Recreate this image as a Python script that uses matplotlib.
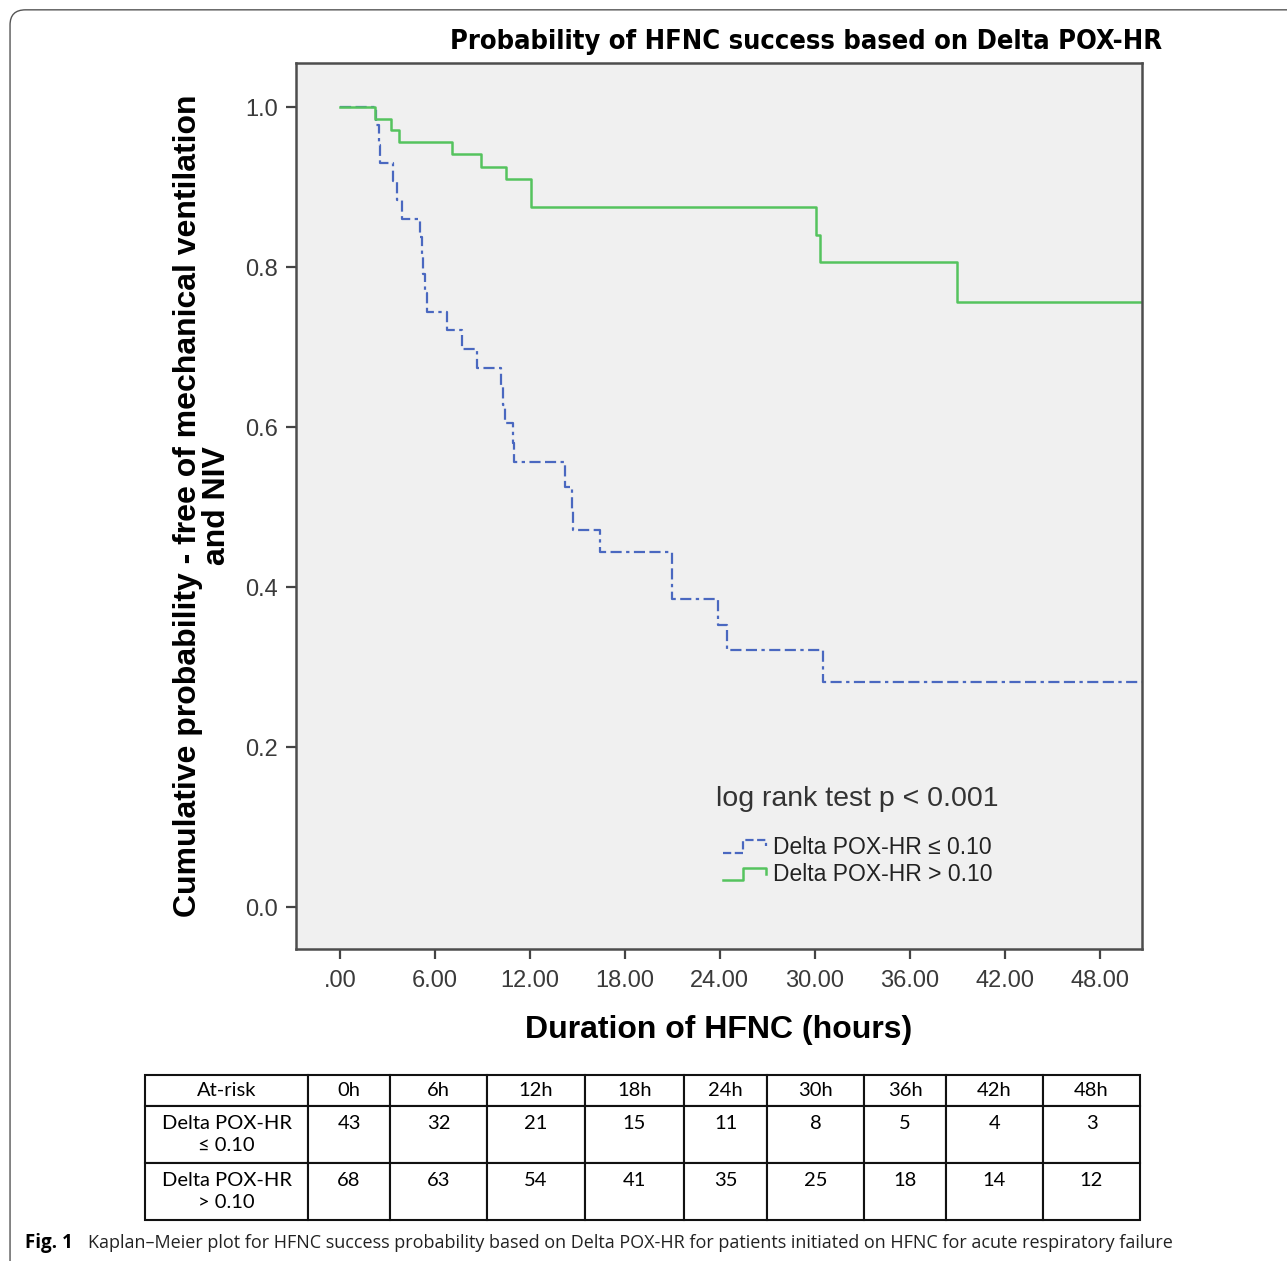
import matplotlib.pyplot as plt
import numpy as np
from matplotlib.lines import Line2D
from matplotlib.legend_handler import HandlerBase
from matplotlib.patches import FancyBboxPatch

# Kaplan-Meier step data (time in hours, survival after the event)
low_t = [0, 2.3, 2.45, 2.55, 3.35, 3.6, 3.9, 5.05, 5.15, 5.25, 5.35, 5.5, 6.75, 7.7, 8.65,
         10.2, 10.3, 10.4, 10.9, 11.0, 14.2, 14.65, 14.75, 16.4, 21.0, 23.9, 24.45, 30.5, 52]
low_s = [1.0, 0.977, 0.953, 0.93, 0.907, 0.884, 0.86, 0.837, 0.814, 0.791, 0.767, 0.744, 0.721,
         0.698, 0.674, 0.651, 0.628, 0.605, 0.58, 0.556, 0.525, 0.498, 0.471, 0.444, 0.385,
         0.352, 0.321, 0.281, 0.281]
high_t = [0, 2.2, 3.2, 3.7, 7.05, 8.9, 10.5, 12.1, 30.1, 30.35, 39.0, 52]
high_s = [1.0, 0.985, 0.971, 0.956, 0.941, 0.925, 0.91, 0.875, 0.84, 0.806, 0.756, 0.756]

xticks = [0, 6, 12, 18, 24, 30, 36, 42, 48]
xticklabels = [".00", "6.00", "12.00", "18.00", "24.00", "30.00", "36.00", "42.00", "48.00"]
yticks = [0.0, 0.2, 0.4, 0.6, 0.8, 1.0]

risk_cols = ["At-risk", "0h", "6h", "12h", "18h", "24h", "30h", "36h", "42h", "48h"]
risk_low = [43, 32, 21, 15, 11, 8, 5, 4, 3]
risk_high = [68, 63, 54, 41, 35, 25, 18, 14, 12]
label_low = "Delta POX-HR ≤ 0.10"
label_high = "Delta POX-HR > 0.10"

blue = "#4a68c0"
green = "#55c35e"
sans = ["Liberation Sans", "DejaVu Sans"]
plt.rcParams["font.family"] = sans


class StepHandler(HandlerBase):
    def create_artists(self, legend, orig, xd, yd, w, h, fs, trans):
        xs = np.array([0, 0.45, 0.45, 0.95, 0.95]) * w - xd
        ys = np.array([0.05, 0.05, 0.85, 0.85, 0.45]) * h - yd
        ln = Line2D(xs, ys, color=orig.get_color(), linestyle=orig.get_linestyle(),
                    lw=orig.get_linewidth())
        ln.set_transform(trans)
        return [ln]


fig = plt.figure(figsize=(12.87, 12.61), dpi=100)
fig.patch.set_facecolor("white")

# rounded frame of the journal figure
frame = FancyBboxPatch((0.0078, -0.02), 1.05, 1.0122, transform=fig.transFigure,
                       boxstyle="round,pad=0,rounding_size=0.012", fc="none",
                       ec="#555555", lw=1.0, clip_on=False)
fig.add_artist(frame)

ax = fig.add_axes([0.230, 0.2474, 0.657, 0.7026])
ax.set_facecolor("#f0f0f0")
l1, = ax.step(low_t, low_s, where="post", color=blue, lw=1.6,
              linestyle=(0, (5, 2, 5, 2, 1.5, 2)))
l2, = ax.step(high_t, high_s, where="post", color=green, lw=1.8)
ax.set_xlim(-2.78, 50.65)
ax.set_ylim(-0.0525, 1.055)
ax.set_xticks(xticks)
ax.set_xticklabels(xticklabels)
ax.set_yticks(yticks)
ax.set_yticklabels([f"{v:.1f}" for v in yticks])
ax.tick_params(length=7, width=1.6, color="#444444", labelsize=17,
               labelcolor="#3a3a3a", pad=6)
ax.tick_params(axis="x", pad=8)
for sp in ax.spines.values():
    sp.set_color("#4d4d4d")
    sp.set_linewidth(1.8)

ax.set_ylabel("Cumulative probability - free of mechanical ventilation\nand NIV",
              fontsize=23, fontweight="bold", linespacing=0.95)
ax.yaxis.set_label_coords(-0.076, 0.5)
ax.set_xlabel("Duration of HFNC (hours)", fontsize=23, fontweight="bold")
ax.xaxis.set_label_coords(0.5, -0.074)

leg = ax.legend([l1, l2], [label_low, label_high], title="log rank test p < 0.001",
                loc="upper left", bbox_to_anchor=(0.497, 0.184), frameon=False,
                fontsize=16.5, title_fontsize=20.5, handlelength=2.0, handletextpad=0.2,
                labelspacing=0.2, borderpad=0, borderaxespad=0,
                handler_map={Line2D: StepHandler()})
leg._legend_box.align = "center"
leg._legend_box.sep = 17
for t in leg.get_texts():
    t.set_color("#222222")
leg.get_title().set_color("#333333")

fig.text(0.626, 0.9667, "Probability of HFNC success based on Delta POX-HR",
         ha="center", va="center", fontsize=19.5, fontweight="bold",
         family=["Liberation Sans Narrow", "DejaVu Sans"], fontstretch="condensed")

# at-risk table
tax = fig.add_axes([0.1127, 0.0325, 0.7731, 0.115])
tax.axis("off")
cells = [risk_cols,
         ["Delta POX-HR\n≤ 0.10"] + [f"{v}\n " for v in risk_low],
         ["Delta POX-HR\n> 0.10"] + [f"{v}\n " for v in risk_high]]
widths = np.array([163, 82, 97, 98, 99, 83, 97, 82, 97, 97], dtype=float)
tbl = tax.table(cellText=cells, cellLoc="center", colWidths=list(widths / widths.sum()),
                bbox=[0, 0, 1, 1])
tbl.auto_set_font_size(False)
tbl.set_fontsize(14.5)
heights = [31, 57, 57]
for (r, c), cell in tbl.get_celld().items():
    cell.set_height(heights[r] / sum(heights))
    cell.set_linewidth(1.5)
    cell.set_edgecolor("#111111")
    cell.get_text().set_family(["Lato", "DejaVu Sans"])
    cell.get_text().set_linespacing(1.4)

fig.text(0.0195, 0.0105, "Fig. 1", fontsize=13.5, fontweight="bold",
         family=["Open Sans", "DejaVu Sans"], va="baseline", ha="left")
fig.text(0.068, 0.0105,
         "Kaplan–Meier plot for HFNC success probability based on Delta POX-HR "
         "for patients initiated on HFNC for acute respiratory failure",
         fontsize=13, family=["Open Sans", "DejaVu Sans"], va="baseline", ha="left",
         color="#222222")

fig.savefig("out.png", dpi=100)
